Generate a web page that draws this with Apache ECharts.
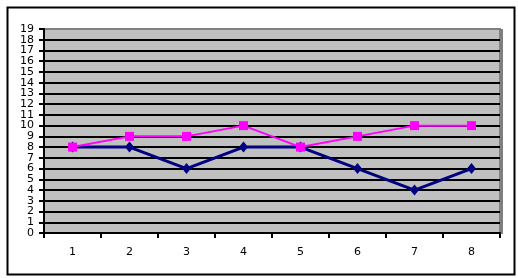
<!DOCTYPE html>
<html><head><meta charset="utf-8">
<script src="https://cdn.jsdelivr.net/npm/echarts@6/dist/echarts.min.js"></script>
<style>html,body{margin:0;padding:0;background:#fff}#c{width:518px;height:278px}</style>
</head><body><div id="c"></div>
<script>
var categories = ['1','2','3','4','5','6','7','8'];
var seriesNavy = [8, 8, 6, 8, 8, 6, 4, 6];
var seriesMagenta = [8, 9, 9, 10, 8, 9, 10, 10];
var yMin = 0, yMax = 19, yStep = 1;
var yTickLabels = ['0','1','2','3','4','5','6','7','8','9','10','11','12','13','14','15','16','17','18','19'];

var chart = echarts.init(document.getElementById('c'), null, {renderer: 'canvas'});
chart.setOption({
  animation: false,
  backgroundColor: '#ffffff',
  textStyle: {fontFamily: 'DejaVu Sans'},
  graphic: [{
    type: 'rect', left: 5, top: 5, z: -10, silent: true,
    shape: {width: 507, height: 267},
    style: {fill: 'none', stroke: '#000', lineWidth: 2}
  }, {
    type: 'rect', left: 500, top: 29, z: -5, silent: true,
    shape: {width: 3, height: 205},
    style: {fill: '#808080'}
  }],
  grid: {
    left: 44, right: 18, top: 29, bottom: 45,
    show: true, backgroundColor: '#C0C0C0', borderColor: '#808080', borderWidth: 2
  },
  xAxis: {
    type: 'category', data: categories, boundaryGap: true,
    axisLine: {lineStyle: {color: '#000', width: 2}},
    axisTick: {show: true, length: 5, lineStyle: {color: '#000', width: 2}},
    axisLabel: {color: '#000', fontSize: 11, margin: 14, fontFamily: 'DejaVu Sans'},
    splitLine: {show: false}
  },
  yAxis: [{
    type: 'value', min: yMin, max: yMax, interval: yStep,
    axisLine: {show: true, lineStyle: {color: '#000', width: 2}},
    axisTick: {show: false},
    axisLabel: {show: false},
    splitLine: {show: true, showMaxLine: false, lineStyle: {color: '#000', width: 2}}
  }, {
    type: 'category', data: yTickLabels, boundaryGap: false, position: 'left',
    axisLine: {show: false},
    axisTick: {show: true, length: 5, interval: 0, lineStyle: {color: '#000', width: 2}},
    axisLabel: {show: true, interval: 0, color: '#000', fontSize: 11, margin: 10, fontFamily: 'DejaVu Sans'},
    splitLine: {show: false}
  }],
  series: [{
    type: 'line', data: seriesNavy, symbol: 'diamond', symbolSize: [9, 11], yAxisIndex: 0,
    lineStyle: {color: '#000080', width: 3}, itemStyle: {color: '#000080'}, z: 2
  }, {
    type: 'line', data: seriesMagenta, symbol: 'rect', symbolSize: 9, yAxisIndex: 0,
    lineStyle: {color: '#FF00FF', width: 2}, itemStyle: {color: '#FF00FF'}, z: 3
  }]
});
</script></body></html>
